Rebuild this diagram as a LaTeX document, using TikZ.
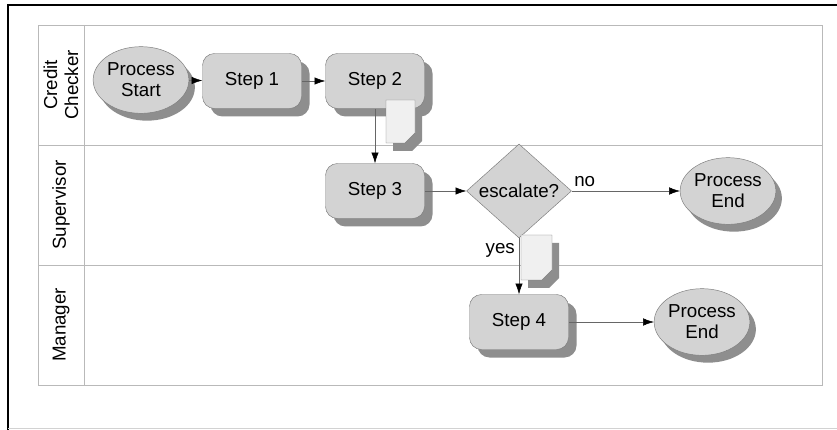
\documentclass[tikz,border=0pt]{standalone}
\usepackage{fontspec}
\setmainfont{Liberation Sans}
\usetikzlibrary{arrows.meta}
\usetikzlibrary{shapes.geometric}
\usetikzlibrary{shadows}
\definecolor{boxgray}{HTML}{D3D3D3}
\definecolor{rimgray}{HTML}{7C7C7C}
\definecolor{shadegray}{HTML}{8E8E8E}
\definecolor{docgray}{HTML}{F0F0F0}
\tikzset{t/.style={font=\fontsize{16}{18}\selectfont}}
\tikzset{lane/.style={draw=gray!55, line width=0.6pt}}
\tikzset{stepbox/.style={t, draw=rimgray, fill=boxgray, rounded corners=0.36cm,
    minimum width=2.97cm, minimum height=1.65cm,
    drop shadow={shadow xshift=0.24cm, shadow yshift=-0.24cm, fill=shadegray, opacity=1}}}
\tikzset{terminal/.style={t, ellipse, draw=rimgray, fill=boxgray, align=center, inner sep=0pt,
    minimum width=2.46cm, minimum height=2.0cm,
    drop shadow={shadow xshift=0.18cm, shadow yshift=-0.22cm, fill=shadegray, opacity=1}}}
\tikzset{decide/.style={t, diamond, draw=rimgray, fill=boxgray, inner sep=0pt,
    minimum width=3.15cm, minimum height=2.7cm}}
\tikzset{flow/.style={draw=black!60, thin, {Latex[length=3.2mm, width=2.2mm, black]}-}}
% folded sheet: top left corner, width, height
\newcommand{\docsheet}[4]{%
  \fill[shadegray] (#1+7,#2+8) -- ++(#3,0) -- ++(0,#4-10) -- ++(-10,10) -- ++(-#3+10,0) -- cycle;
  \draw[rimgray, fill=docgray] (#1,#2) -- ++(#3,0) -- ++(0,#4-10) -- ++(-10,10) -- ++(-#3+10,0) -- cycle;}

\begin{document}
\begin{tikzpicture}[x=0.03cm, y=-0.03cm]
        \useasboundingbox (0,0) rectangle (837,430);
        % frame and lanes
        \draw[line width=1.3pt] (8,430) -- (8,5) -- (837,5);
        \draw[gray!35] (8,428) -- (837,428);
        \draw[lane] (38,25) rectangle (822,385);
        \draw[lane] (38,145) -- (822,145);
        \draw[lane] (38,265) -- (822,265);
        \draw[lane] (84,25) -- (84,385);
        \node[t, rotate=90, align=center] (credit) at (61,85) {Credit\\Checker};
        \node[t, rotate=90] (super) at (61,205) {Supervisor};
        \node[t, rotate=90] (manager) at (61,325) {Manager};

        \node[terminal] (start) at (141,80) {Process\\Start};
        \node[stepbox] (s1) at (252,81) {Step 1}
          edge [flow] (start);
        \node[stepbox] (s2) at (375,81) {Step 2}
          edge [flow] (s1);
        \node[stepbox] (s3) at (375,191) {Step 3}
          edge [flow] (s2);
        \node[decide] (esc) at (519,191) {escalate?}
          edge [flow] (s3);
        \node[terminal] (end1) at (728,191) {Process\\End}
          edge [flow] node [t, pos=0.88, above] {no} (esc);
        \node[stepbox] (s4) at (519,322) {Step 4}
          edge [flow] node [t, pos=0.78, left] {yes} (esc);
        \node[terminal] (end2) at (702,322) {Process\\End}
          edge [flow] (s4);

        % attached sheets
        \docsheet{386}{100}{29}{43}
        \docsheet{521}{235}{31}{45}
      \end{tikzpicture}
\end{document}
